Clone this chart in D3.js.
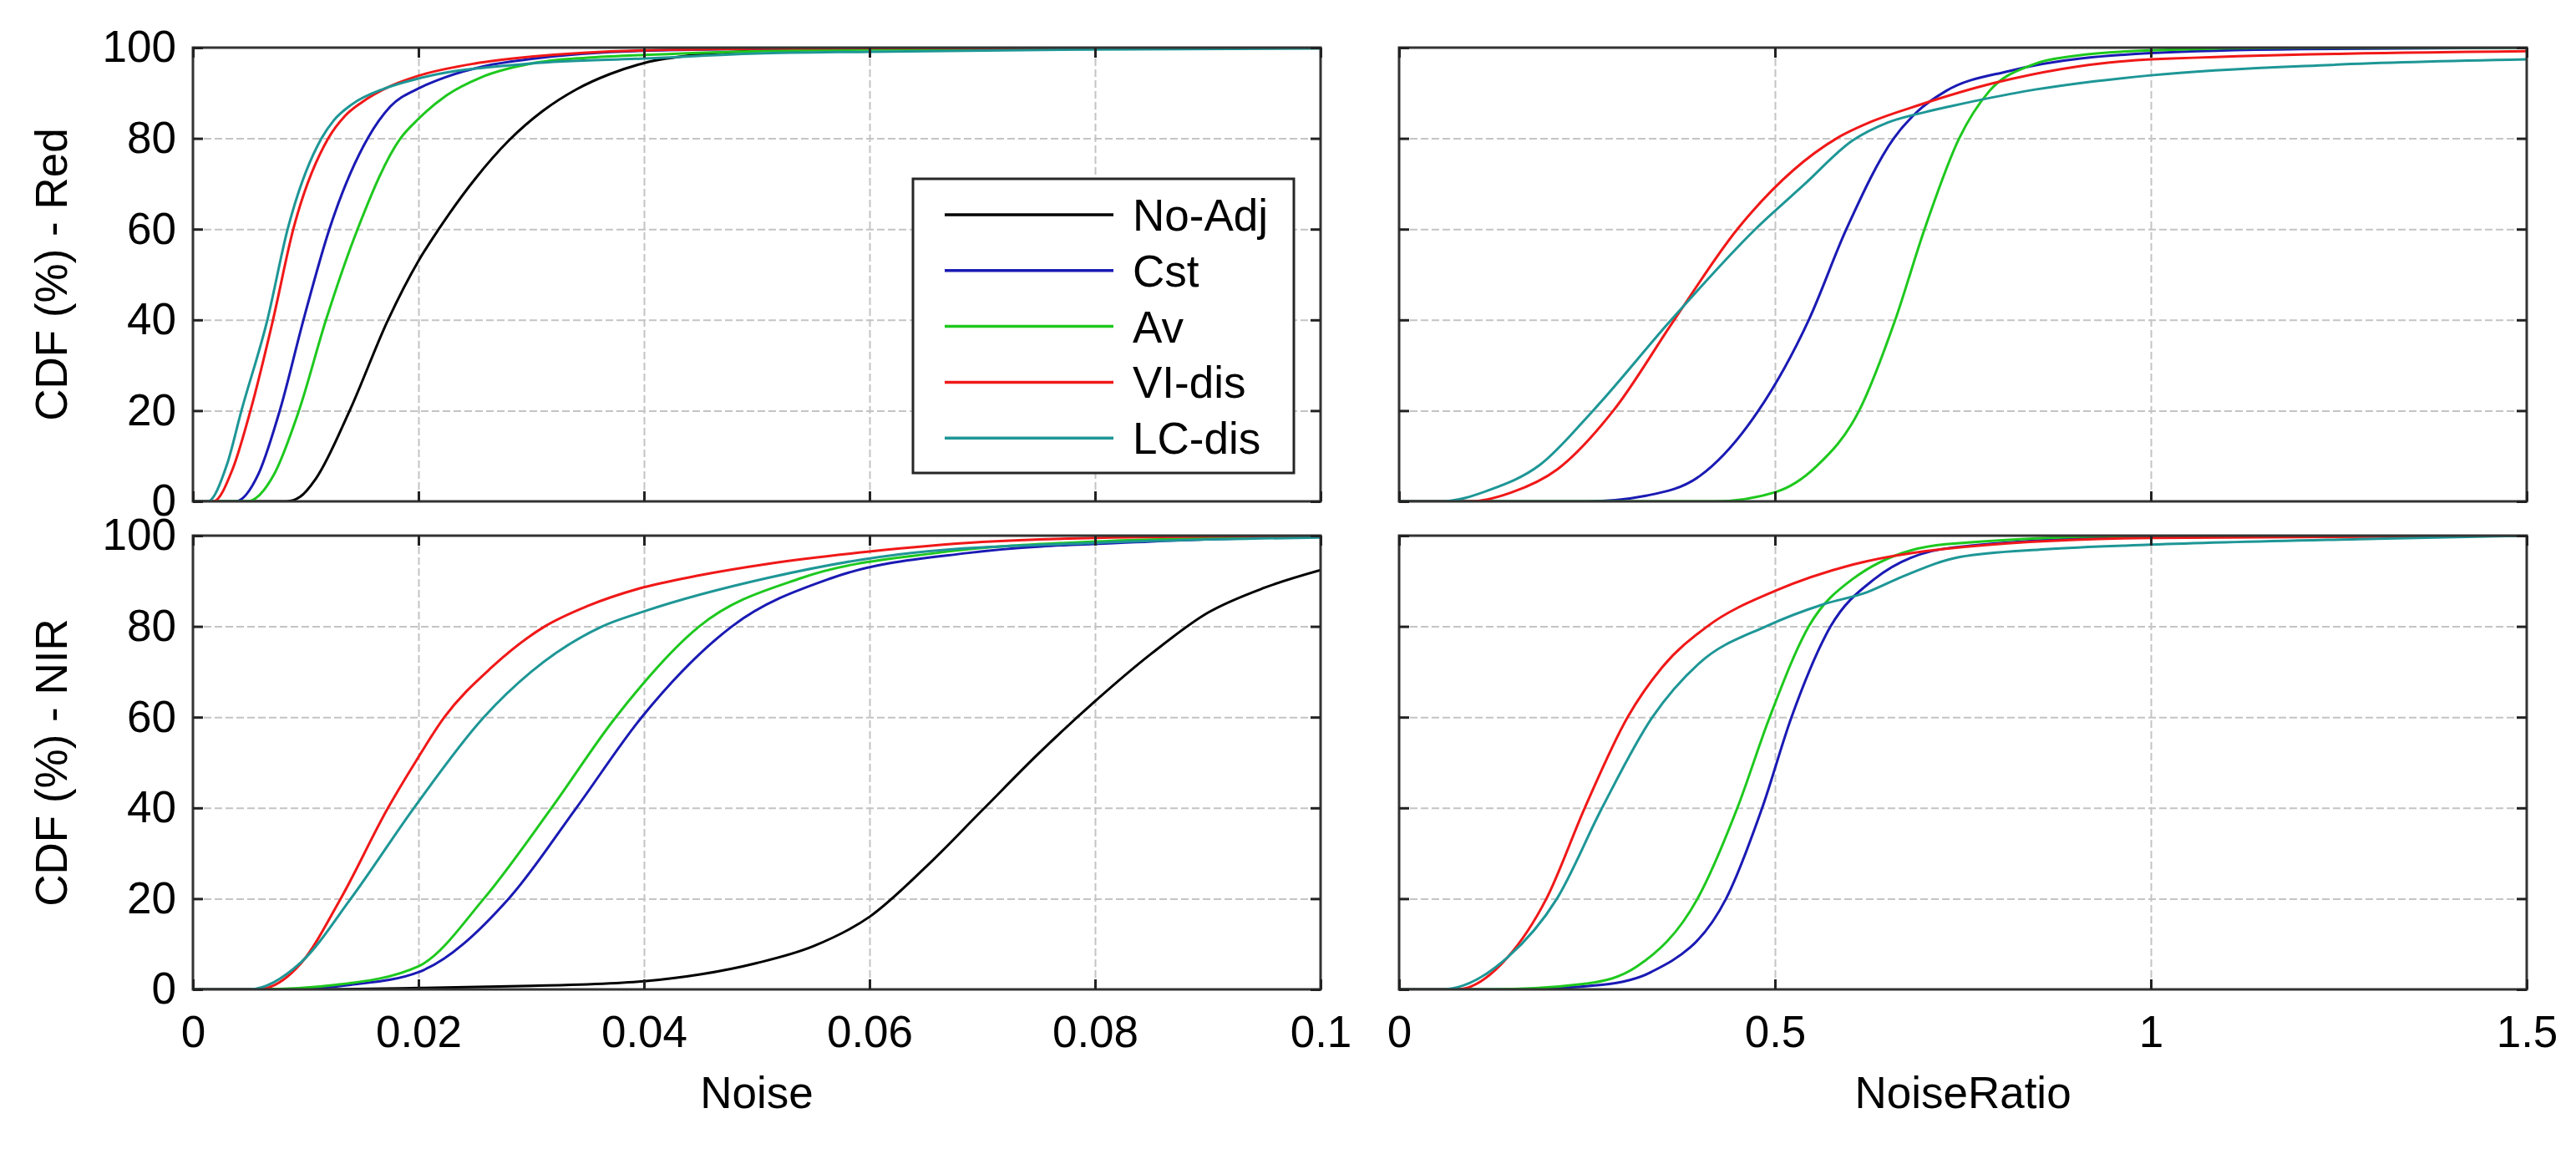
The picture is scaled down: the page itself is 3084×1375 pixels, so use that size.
<!DOCTYPE html>
<html>
<head>
<meta charset="utf-8">
<script src="https://cdn.jsdelivr.net/npm/d3@7"></script>
<style>
  body { margin: 0; background: #fff; }
  text { font-family: "Liberation Sans", Arial, sans-serif; }
</style>
</head>
<body>
<div id="chart"></div>
<script>
// series, colours, ticks, labels
const seriesNames = ["No-Adj", "Cst", "Av", "VI-dis", "LC-dis"];
const seriesColors = ["#000000", "#1a1ab4", "#1ec81e", "#f01818", "#1e9696"];
const yTicks = [0, 20, 40, 60, 80, 100];
const noiseTicks = [0, 0.02, 0.04, 0.06, 0.08, 0.1];
const ratioTicks = [0, 0.5, 1, 1.5];
const rowLabels = ["CDF (%) - Red", "CDF (%) - NIR"];
const colLabels = ["Noise", "NoiseRatio"];

// Red band, Noise  [x, CDF %]
const redNoiseNoAdj = [[0,0],[0.0083,0],[0.0095,1],[0.0109,5],[0.0139,20],[0.0173,40],[0.02,53],[0.0218,60],[0.025,71],[0.028,79.5],[0.031,86],[0.034,90.8],[0.037,94.2],[0.04,96.6],[0.045,98.5],[0.05,99.3],[0.06,99.8],[0.1,100]];
const redNoiseCst   = [[0,0],[0.0038,0],[0.0058,6],[0.0077,20],[0.0098,40],[0.0121,60],[0.0155,80],[0.0175,87],[0.02,91],[0.0224,93.5],[0.026,96],[0.03,97.5],[0.04,99.3],[0.06,99.9],[0.1,100]];
const redNoiseAv    = [[0,0],[0.0048,0],[0.0072,6],[0.0094,20],[0.0118,40],[0.0146,60],[0.0184,80],[0.02,84.3],[0.0225,89.5],[0.0256,93.5],[0.03,96.5],[0.035,97.8],[0.04,98.4],[0.06,99.6],[0.1,100]];
const redNoiseVI    = [[0,0],[0.0018,0],[0.0035,7],[0.0051,20],[0.0071,40],[0.0089,60],[0.012,80],[0.0135,85],[0.015,88],[0.0175,91.5],[0.02,93.8],[0.025,96.5],[0.03,98],[0.04,99.4],[0.06,99.9],[0.1,100]];
const redNoiseLC    = [[0,0],[0.0013,0],[0.003,8],[0.0043,20],[0.0066,40],[0.0084,60],[0.0114,80],[0.0125,84],[0.0141,87.5],[0.017,91],[0.02,93.2],[0.03,96.5],[0.04,97.6],[0.05,98.7],[0.06,99.1],[0.08,99.6],[0.1,99.8]];

// Red band, NoiseRatio
const redRatioCst = [[0,0],[0.25,0],[0.33,1.3],[0.40,5.6],[0.478,20],[0.545,40],[0.595,60],[0.658,80],[0.69,86],[0.727,90.4],[0.813,94.9],[1.0,98.8],[1.2,99.7],[1.5,100]];
const redRatioAv  = [[0,0],[0.42,0],[0.5,2],[0.555,7.7],[0.612,20],[0.66,40],[0.699,60],[0.745,80],[0.785,90.4],[0.842,96.2],[0.9,98.2],[1.0,99.4],[1.2,100],[1.5,100]];
const redRatioVI  = [[0,0],[0.096,0],[0.15,2],[0.21,7],[0.285,20],[0.366,40],[0.45,60],[0.582,80],[0.63,83.8],[0.689,87.2],[0.794,92.3],[1.0,97.4],[1.5,99.2]];
const redRatioLC  = [[0,0],[0.057,0],[0.12,2.5],[0.187,8],[0.258,20],[0.362,40],[0.474,60],[0.54,70],[0.603,79.5],[0.65,83.5],[0.7,85.8],[0.737,87.2],[0.833,90.4],[1.0,93.9],[1.24,96.2],[1.5,97.4]];

// NIR band, Noise
const nirNoiseNoAdj = [[0,0],[0.01,0],[0.02,0.3],[0.03,0.8],[0.035,1.1],[0.04,1.8],[0.045,3.3],[0.05,5.8],[0.055,9.5],[0.06,16],[0.065,27],[0.07,39.5],[0.075,52],[0.08,63.5],[0.085,74],[0.09,83],[0.095,88.5],[0.1,92.4]];
const nirNoiseCst   = [[0,0],[0.008,0],[0.014,1],[0.02,3.8],[0.028,20],[0.034,40],[0.0398,60],[0.0478,80],[0.0567,90.7],[0.0688,96.2],[0.085,98.7],[0.1,99.8]];
const nirNoiseAv    = [[0,0],[0.006,0],[0.0127,1],[0.02,5.1],[0.0258,20],[0.0318,40],[0.0375,60],[0.0449,80],[0.054,90.7],[0.066,96.2],[0.08,98.7],[0.1,99.8]];
const nirNoiseVI    = [[0,0],[0.0057,0],[0.0096,5.8],[0.0131,20],[0.0173,40],[0.0197,50],[0.0223,60],[0.0265,71],[0.0312,80],[0.035,84.5],[0.0395,88.3],[0.045,91.3],[0.051,93.8],[0.06,96.5],[0.07,98.6],[0.08,99.5],[0.1,100]];
const nirNoiseLC    = [[0,0],[0.005,0],[0.0096,6],[0.014,20],[0.0196,40],[0.0258,60],[0.03,70],[0.0363,80],[0.04,83.3],[0.051,90.7],[0.0637,96.2],[0.08,98.4],[0.1,99.6]];

// NIR band, NoiseRatio
const nirRatioCst = [[0,0],[0.15,0],[0.27,1],[0.335,3.8],[0.435,20],[0.483,40],[0.522,60],[0.574,80],[0.632,90.4],[0.737,97.4],[1.0,99.7],[1.5,100]];
const nirRatioAv  = [[0,0],[0.12,0],[0.25,1.3],[0.316,5],[0.397,20],[0.45,40],[0.493,60],[0.545,80],[0.603,90.4],[0.727,98.1],[1.0,100],[1.5,100]];
const nirRatioVI  = [[0,0],[0.077,0],[0.144,7],[0.196,20],[0.247,40],[0.304,60],[0.35,71],[0.41,80],[0.5,87.8],[0.603,93.6],[0.727,97.1],[1.0,99.5],[1.5,100]];
const nirRatioLC  = [[0,0],[0.057,0],[0.144,7],[0.21,20],[0.27,40],[0.337,60],[0.4,72],[0.488,80],[0.565,84.9],[0.622,87.5],[0.67,91],[0.746,95.3],[0.86,97],[1.0,98],[1.3,99.3],[1.5,100]];

// panel layout (pixels)
const W = 3084, H = 1375;
const colX = [231, 1675], colW = 1350;
const rowY = [57, 641], rowH = 543;

const panels = [
  { row: 0, col: 0, domain: [0, 0.1], ticks: noiseTicks, lines: [redNoiseNoAdj, redNoiseCst, redNoiseAv, redNoiseVI, redNoiseLC] },
  { row: 0, col: 1, domain: [0, 1.5], ticks: ratioTicks, lines: [null, redRatioCst, redRatioAv, redRatioVI, redRatioLC] },
  { row: 1, col: 0, domain: [0, 0.1], ticks: noiseTicks, lines: [nirNoiseNoAdj, nirNoiseCst, nirNoiseAv, nirNoiseVI, nirNoiseLC] },
  { row: 1, col: 1, domain: [0, 1.5], ticks: ratioTicks, lines: [null, nirRatioCst, nirRatioAv, nirRatioVI, nirRatioLC] }
];

const fontSize = 53;
const svg = d3.select("#chart").append("svg")
  .attr("width", W)
  .attr("height", H)
  .style("background", "#fff");

panels.forEach((p, i) => {
  const x = d3.scaleLinear().domain(p.domain).range([0, colW]);
  const y = d3.scaleLinear().domain([0, 100]).range([rowH, 0]);
  const g = svg.append("g").attr("transform", `translate(${colX[p.col]},${rowY[p.row]})`);

  g.append("clipPath").attr("id", "clip" + i)
    .append("rect").attr("width", colW).attr("height", rowH);

  // grid
  const gx = g.append("g")
    .call(d3.axisBottom(x).tickValues(p.ticks.slice(1, -1)).tickSize(rowH).tickFormat(""));
  const gy = g.append("g")
    .call(d3.axisLeft(y).tickValues(yTicks.slice(1, -1)).tickSize(-colW).tickFormat(""));
  [gx, gy].forEach(a => {
    a.select(".domain").remove();
    a.selectAll("line").attr("stroke", "#c4c4c4").attr("stroke-width", 2).attr("stroke-dasharray", "9,4");
  });

  // curves
  const line = d3.line()
    .x(d => x(d[0]))
    .y(d => y(d[1]))
    .curve(d3.curveMonotoneX);
  p.lines.forEach((s, k) => {
    if (!s) return;
    g.append("path")
      .datum(s)
      .attr("clip-path", `url(#clip${i})`)
      .attr("fill", "none")
      .attr("stroke", seriesColors[k])
      .attr("stroke-width", 3)
      .attr("d", line);
  });

  // frame
  g.append("rect")
    .attr("width", colW).attr("height", rowH)
    .attr("fill", "none").attr("stroke", "#333").attr("stroke-width", 3);

  // inward ticks on all four sides
  const tick = 12;
  const left = g.append("g").call(d3.axisLeft(y).tickValues(yTicks).tickSizeInner(-tick).tickSizeOuter(0)
    .tickPadding(20).tickFormat(p.col === 0 ? d => d : ""));
  const right = g.append("g").attr("transform", `translate(${colW},0)`)
    .call(d3.axisRight(y).tickValues(yTicks).tickSizeInner(-tick).tickSizeOuter(0).tickFormat(""));
  const top = g.append("g")
    .call(d3.axisTop(x).tickValues(p.ticks).tickSizeInner(-tick).tickSizeOuter(0).tickFormat(""));
  const bottom = g.append("g").attr("transform", `translate(0,${rowH})`)
    .call(d3.axisBottom(x).tickValues(p.ticks).tickSizeInner(-tick).tickSizeOuter(0)
      .tickPadding(31).tickFormat(p.row === 1 ? d => String(d) : ""));
  [left, right, top, bottom].forEach(a => {
    a.select(".domain").remove();
    a.selectAll("line").attr("stroke", "#222").attr("stroke-width", 3);
    a.selectAll("text").attr("font-size", fontSize).attr("fill", "#000")
      .style("font-family", '"Liberation Sans", Arial, sans-serif');
  });
});

// axis titles
rowLabels.forEach((t, r) => {
  svg.append("text")
    .attr("transform", "rotate(-90)")
    .attr("x", -(rowY[r] + rowH / 2))
    .attr("y", 80)
    .attr("text-anchor", "middle")
    .attr("font-size", fontSize)
    .text(t);
});
colLabels.forEach((t, c) => {
  svg.append("text")
    .attr("x", colX[c] + colW / 2)
    .attr("y", 1326)
    .attr("text-anchor", "middle")
    .attr("font-size", fontSize)
    .text(t);
});

// legend in the top-left panel
const lg = svg.append("g").attr("transform", "translate(1093,214)");
lg.append("rect")
  .attr("width", 456).attr("height", 352)
  .attr("fill", "#fff").attr("stroke", "#262626").attr("stroke-width", 3);
seriesNames.forEach((n, k) => {
  const yy = 43 + k * 66.8;
  lg.append("line")
    .attr("x1", 38).attr("x2", 240)
    .attr("y1", yy).attr("y2", yy)
    .attr("stroke", seriesColors[k]).attr("stroke-width", 3.5);
  lg.append("text")
    .attr("x", 263).attr("y", yy + 19)
    .attr("font-size", fontSize)
    .text(n);
});
</script>
</body>
</html>
